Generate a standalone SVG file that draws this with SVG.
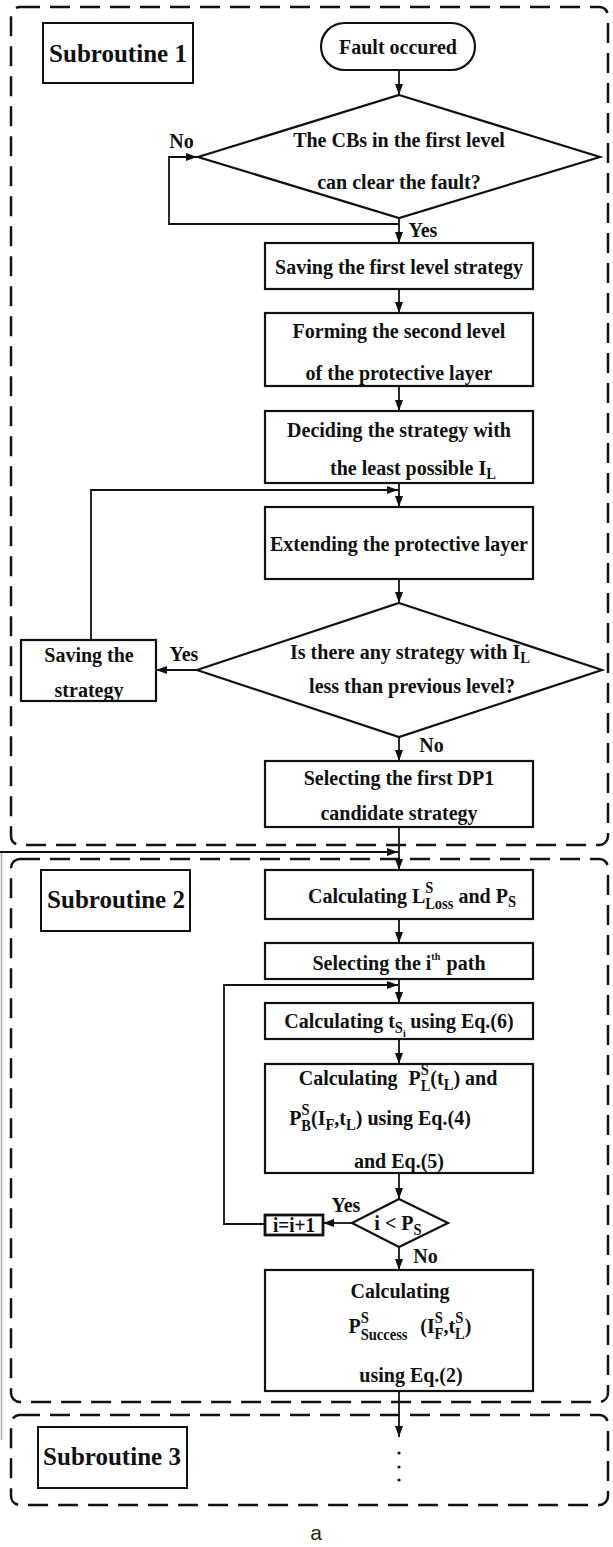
<svg xmlns="http://www.w3.org/2000/svg" width="613" height="1547" viewBox="0 0 613 1547">
<defs>
<marker id="arrow" viewBox="0 0 11 8" refX="11" refY="4" markerWidth="11" markerHeight="8" markerUnits="userSpaceOnUse" orient="auto"><path d="M0,0 L11,4 L0,8 z" fill="#111"/></marker>
<style>
.frame{fill:none;stroke:#111;stroke-width:2.5;stroke-dasharray:20 10}
.box{fill:#fff;stroke:#111;stroke-width:2.2}
.tag{fill:#fff;stroke:#111;stroke-width:2}
.edge{fill:none;stroke:#111;stroke-width:1.8}
.arr{marker-end:url(#arrow)}
.t{font-family:"Liberation Serif","Times New Roman",serif;font-weight:bold;font-size:22px;fill:#111;transform-box:fill-box;transform-origin:center;transform:scaleX(0.91)}
.c{text-anchor:middle}
.lab{font-size:25px;transform:none}
.s{font-size:16px}
.ss{font-size:11px}
.cap{font-family:"Liberation Sans",Arial,sans-serif;font-size:21px;fill:#222;text-anchor:middle}
</style>
</defs>
<rect width="613" height="1547" fill="#fff"/>

<!-- subroutine frames -->
<g id="frames">
<rect class="frame" x="11" y="7" width="597" height="838" rx="9"/>
<rect class="frame" x="11" y="859" width="597" height="543" rx="9"/>
<rect class="frame" x="11" y="1415" width="597" height="90" rx="9"/>
<line x1="1.5" y1="852" x2="1.5" y2="1440" stroke="#aaa" stroke-width="1.5"/>
</g>

<!-- connectors -->
<g id="connectors">
<path class="edge arr" d="M399,70 V95"/>
<path class="edge arr" d="M399,218 V243"/>
<path class="edge arr" d="M399,224 H169 V157 H197"/>
<path class="edge arr" d="M399,289 V313"/>
<path class="edge arr" d="M399,386 V411"/>
<path class="edge arr" d="M399,483 V507"/>
<path class="edge arr" d="M91,640 V490 H398"/>
<path class="edge arr" d="M399,579 V603"/>
<path class="edge arr" d="M197,670 H156"/>
<path class="edge arr" d="M399,737 V761"/>
<path class="edge arr" d="M399,827 V870"/>
<path class="edge arr" d="M0,852 H398"/>
<path class="edge arr" d="M399,919 V943"/>
<path class="edge arr" d="M399,979 V1003"/>
<path class="edge arr" d="M265,1224 H224 V985 H398"/>
<path class="edge arr" d="M399,1039 V1064"/>
<path class="edge arr" d="M399,1173 V1199"/>
<path class="edge arr" d="M352,1223 H323"/>
<path class="edge arr" d="M399,1247 V1270"/>
<path class="edge arr" d="M399,1391 V1437"/>
</g>

<!-- subroutine 1 -->
<g id="sub1-tag">
<rect class="tag" x="43" y="23" width="150" height="60"/>
<text class="t c lab" x="118" y="62">Subroutine 1</text>
</g>
<g id="start">
<rect class="box" x="321" y="23" width="154" height="47" rx="23.5"/>
<text class="t c" x="398" y="54">Fault occured</text>
</g>
<g id="decision-first-level">
<polygon class="box" points="399,95 600,157 399,218 198,157"/>
<text class="t c" x="399" y="147">The CBs in the first level</text>
<text class="t c" x="399" y="189">can clear the fault?</text>
<text class="t" x="168" y="148">No</text>
<text class="t" x="407" y="237">Yes</text>
</g>
<g id="save-first">
<rect class="box" x="265" y="243" width="268" height="46"/>
<text class="t c" x="399" y="274">Saving the first level strategy</text>
</g>
<g id="form-second">
<rect class="box" x="265" y="313" width="268" height="73"/>
<text class="t c" x="399" y="338">Forming the second level</text>
<text class="t c" x="399" y="380">of the protective layer</text>
</g>
<g id="decide-strategy">
<rect class="box" x="265" y="411" width="268" height="72"/>
<text class="t c" x="399" y="437">Deciding the strategy with</text>
<text class="t c" x="413" y="475">the least possible I<tspan class="s" dy="4">L</tspan></text>
</g>
<g id="extend-layer">
<rect class="box" x="265" y="507" width="268" height="72"/>
<text class="t c" x="399" y="551">Extending the protective layer</text>
</g>
<g id="decision-less">
<polygon class="box" points="399,603 602,670 399,737 197,670"/>
<text class="t c" x="410" y="659">Is there any strategy with I<tspan class="s" dy="4">L</tspan></text>
<text class="t c" x="412" y="693">less than previous level?</text>
<text class="t" x="168" y="661">Yes</text>
<text class="t" x="418" y="752">No</text>
</g>
<g id="save-strategy">
<rect class="box" x="21" y="640" width="135" height="61"/>
<text class="t c" x="89" y="662">Saving the</text>
<text class="t c" x="89" y="697">strategy</text>
</g>
<g id="select-dp1">
<rect class="box" x="265" y="761" width="268" height="66"/>
<text class="t c" x="399" y="785">Selecting the first DP1</text>
<text class="t c" x="399" y="820">candidate strategy</text>
</g>

<!-- subroutine 2 -->
<g id="sub2-tag">
<rect class="tag" x="41" y="870" width="149" height="61"/>
<text class="t c lab" x="116" y="908">Subroutine 2</text>
</g>
<g id="calc-loss">
<rect class="box" x="265" y="870" width="268" height="49"/>
<text class="t c" x="412" y="903">Calculating L<tspan class="s" dy="-10">S</tspan><tspan class="s" dx="-9" dy="16">Loss</tspan><tspan dy="-6"> and P</tspan><tspan class="s" dy="4">S</tspan></text>
</g>
<g id="select-path">
<rect class="box" x="265" y="943" width="268" height="36"/>
<text class="t c" x="399" y="970">Selecting the i<tspan class="ss" dy="-10">th</tspan><tspan dx="7" dy="10">path</tspan></text>
</g>
<g id="calc-ts">
<rect class="box" x="265" y="1003" width="268" height="36"/>
<text class="t c" x="399" y="1028">Calculating t<tspan class="s" dy="5">S</tspan><tspan class="ss" dy="4">i</tspan><tspan dx="5" dy="-9">using Eq.(6)</tspan></text>
</g>
<g id="calc-pl-pb">
<rect class="box" x="265" y="1064" width="268" height="109"/>
<text class="t c" x="398" y="1085">Calculating<tspan dx="12">P</tspan><tspan class="s" dy="-10">S</tspan><tspan class="s" dx="-9" dy="16">L</tspan><tspan dy="-6">(t</tspan><tspan class="s" dy="5">L</tspan><tspan dy="-5">) and</tspan></text>
<text class="t c" x="380" y="1125">P<tspan class="s" dy="-10">S</tspan><tspan class="s" dx="-9" dy="16">B</tspan><tspan dy="-6">(I</tspan><tspan class="s" dy="5">F</tspan><tspan dy="-5">,t</tspan><tspan class="s" dy="5">L</tspan><tspan dy="-5">) using Eq.(4)</tspan></text>
<text class="t c" x="399" y="1168">and Eq.(5)</text>
</g>
<g id="decision-path">
<polygon class="box" points="399,1199 448,1223 399,1247 352,1223"/>
<text class="t c" x="398" y="1230">i &lt; P<tspan class="s" dy="5">S</tspan></text>
<text class="t" x="330" y="1212">Yes</text>
<text class="t" x="412" y="1263">No</text>
</g>
<g id="increment">
<rect class="box" x="265" y="1215" width="58" height="20" style="stroke-width:2.8"/>
<text class="t c" x="294" y="1232" style="font-size:21px">i=i+1</text>
</g>
<g id="calc-success">
<rect class="box" x="265" y="1270" width="268" height="121"/>
<text class="t c" x="400" y="1298">Calculating</text>
<text class="t c" x="410" y="1333">P<tspan class="s" dy="-10">S</tspan><tspan class="s" dx="-9" dy="17">Success</tspan><tspan dx="14" dy="-7">(I</tspan><tspan class="s" dy="-10">S</tspan><tspan class="s" dx="-9" dy="16">F</tspan><tspan dy="-6">,t</tspan><tspan class="s" dy="-10">S</tspan><tspan class="s" dx="-9" dy="16">L</tspan><tspan dy="-6">)</tspan></text>
<text class="t c" x="411" y="1382">using Eq.(2)</text>
</g>

<!-- subroutine 3 -->
<g id="sub3-tag">
<rect class="tag" x="38" y="1427" width="149" height="61"/>
<text class="t c lab" x="112" y="1465">Subroutine 3</text>
</g>
<g id="continuation">
<circle cx="399" cy="1453" r="1.6" fill="#111"/>
<circle cx="399" cy="1467" r="1.6" fill="#111"/>
<circle cx="399" cy="1480" r="1.6" fill="#111"/>
</g>
<text class="cap" x="316" y="1540">a</text>
</svg>
